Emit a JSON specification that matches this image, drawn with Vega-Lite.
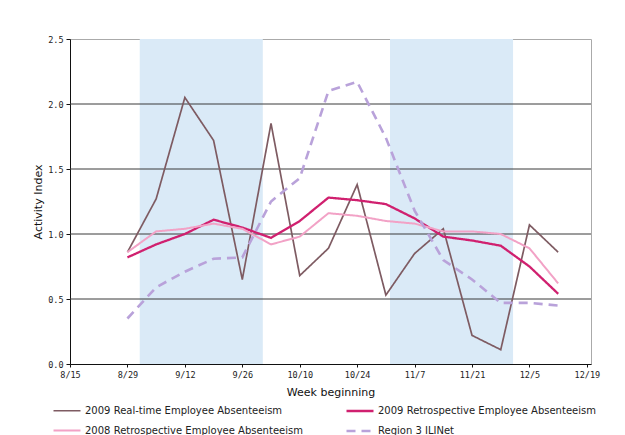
{
  "$schema": "https://vega.github.io/schema/vega-lite/v6.json",
  "width": 521,
  "height": 325,
  "autosize": {"type": "none"},
  "padding": {"left": 70, "top": 39, "right": 34, "bottom": 71},
  "background": "white",
  "config": {
    "view": {"stroke": "#aaaaaa", "strokeWidth": 1},
    "font": "DejaVu Sans",
    "legend": {
      "orient": "none",
      "legendX": -18,
      "legendY": 357,
      "columns": 2,
      "columnPadding": 38,
      "rowPadding": -16,
      "padding": 0,
      "labelFont": "DejaVu Sans",
      "labelFontSize": 10,
      "labelColor": "#222222",
      "labelLimit": 400,
      "symbolType": "stroke",
      "symbolSize": 729,
      "symbolStrokeWidth": 2,
      "symbolOffset": 0,
      "labelOffset": 3
    }
  },
  "datasets": {
    "shade": [
      {"start": "2009-09-01T00:00:00", "end": "2009-10-01T00:00:00"},
      {"start": "2009-11-01T00:00:00", "end": "2009-12-01T00:00:00"}
    ],
    "grid": [{"v": 0.5}, {"v": 1.0}, {"v": 1.5}, {"v": 2.0}],
    "series": [
      {"date": "2009-08-29T00:00:00", "series": "2009 Real-time Employee Absenteeism", "value": 0.86},
      {"date": "2009-09-05T00:00:00", "series": "2009 Real-time Employee Absenteeism", "value": 1.27},
      {"date": "2009-09-12T00:00:00", "series": "2009 Real-time Employee Absenteeism", "value": 2.05},
      {"date": "2009-09-19T00:00:00", "series": "2009 Real-time Employee Absenteeism", "value": 1.72},
      {"date": "2009-09-26T00:00:00", "series": "2009 Real-time Employee Absenteeism", "value": 0.65},
      {"date": "2009-10-03T00:00:00", "series": "2009 Real-time Employee Absenteeism", "value": 1.85},
      {"date": "2009-10-10T00:00:00", "series": "2009 Real-time Employee Absenteeism", "value": 0.68},
      {"date": "2009-10-17T00:00:00", "series": "2009 Real-time Employee Absenteeism", "value": 0.89},
      {"date": "2009-10-24T00:00:00", "series": "2009 Real-time Employee Absenteeism", "value": 1.38},
      {"date": "2009-10-31T00:00:00", "series": "2009 Real-time Employee Absenteeism", "value": 0.53},
      {"date": "2009-11-07T00:00:00", "series": "2009 Real-time Employee Absenteeism", "value": 0.85},
      {"date": "2009-11-14T00:00:00", "series": "2009 Real-time Employee Absenteeism", "value": 1.04},
      {"date": "2009-11-21T00:00:00", "series": "2009 Real-time Employee Absenteeism", "value": 0.22},
      {"date": "2009-11-28T00:00:00", "series": "2009 Real-time Employee Absenteeism", "value": 0.11},
      {"date": "2009-12-05T00:00:00", "series": "2009 Real-time Employee Absenteeism", "value": 1.07},
      {"date": "2009-12-12T00:00:00", "series": "2009 Real-time Employee Absenteeism", "value": 0.86},
      {"date": "2009-08-29T00:00:00", "series": "2009 Retrospective Employee Absenteeism", "value": 0.82},
      {"date": "2009-09-05T00:00:00", "series": "2009 Retrospective Employee Absenteeism", "value": 0.92},
      {"date": "2009-09-12T00:00:00", "series": "2009 Retrospective Employee Absenteeism", "value": 1.00},
      {"date": "2009-09-19T00:00:00", "series": "2009 Retrospective Employee Absenteeism", "value": 1.11},
      {"date": "2009-09-26T00:00:00", "series": "2009 Retrospective Employee Absenteeism", "value": 1.05},
      {"date": "2009-10-03T00:00:00", "series": "2009 Retrospective Employee Absenteeism", "value": 0.97},
      {"date": "2009-10-10T00:00:00", "series": "2009 Retrospective Employee Absenteeism", "value": 1.10},
      {"date": "2009-10-17T00:00:00", "series": "2009 Retrospective Employee Absenteeism", "value": 1.28},
      {"date": "2009-10-24T00:00:00", "series": "2009 Retrospective Employee Absenteeism", "value": 1.26},
      {"date": "2009-10-31T00:00:00", "series": "2009 Retrospective Employee Absenteeism", "value": 1.23},
      {"date": "2009-11-07T00:00:00", "series": "2009 Retrospective Employee Absenteeism", "value": 1.12},
      {"date": "2009-11-14T00:00:00", "series": "2009 Retrospective Employee Absenteeism", "value": 0.98},
      {"date": "2009-11-21T00:00:00", "series": "2009 Retrospective Employee Absenteeism", "value": 0.95},
      {"date": "2009-11-28T00:00:00", "series": "2009 Retrospective Employee Absenteeism", "value": 0.91},
      {"date": "2009-12-05T00:00:00", "series": "2009 Retrospective Employee Absenteeism", "value": 0.75},
      {"date": "2009-12-12T00:00:00", "series": "2009 Retrospective Employee Absenteeism", "value": 0.54},
      {"date": "2009-08-29T00:00:00", "series": "2008 Retrospective Employee Absenteeism", "value": 0.86},
      {"date": "2009-09-05T00:00:00", "series": "2008 Retrospective Employee Absenteeism", "value": 1.02},
      {"date": "2009-09-12T00:00:00", "series": "2008 Retrospective Employee Absenteeism", "value": 1.04},
      {"date": "2009-09-19T00:00:00", "series": "2008 Retrospective Employee Absenteeism", "value": 1.08},
      {"date": "2009-09-26T00:00:00", "series": "2008 Retrospective Employee Absenteeism", "value": 1.04},
      {"date": "2009-10-03T00:00:00", "series": "2008 Retrospective Employee Absenteeism", "value": 0.92},
      {"date": "2009-10-10T00:00:00", "series": "2008 Retrospective Employee Absenteeism", "value": 0.98},
      {"date": "2009-10-17T00:00:00", "series": "2008 Retrospective Employee Absenteeism", "value": 1.16},
      {"date": "2009-10-24T00:00:00", "series": "2008 Retrospective Employee Absenteeism", "value": 1.14},
      {"date": "2009-10-31T00:00:00", "series": "2008 Retrospective Employee Absenteeism", "value": 1.10},
      {"date": "2009-11-07T00:00:00", "series": "2008 Retrospective Employee Absenteeism", "value": 1.08},
      {"date": "2009-11-14T00:00:00", "series": "2008 Retrospective Employee Absenteeism", "value": 1.02},
      {"date": "2009-11-21T00:00:00", "series": "2008 Retrospective Employee Absenteeism", "value": 1.02},
      {"date": "2009-11-28T00:00:00", "series": "2008 Retrospective Employee Absenteeism", "value": 1.00},
      {"date": "2009-12-05T00:00:00", "series": "2008 Retrospective Employee Absenteeism", "value": 0.89},
      {"date": "2009-12-12T00:00:00", "series": "2008 Retrospective Employee Absenteeism", "value": 0.62},
      {"date": "2009-08-29T00:00:00", "series": "Region 3 ILINet", "value": 0.35},
      {"date": "2009-09-05T00:00:00", "series": "Region 3 ILINet", "value": 0.59},
      {"date": "2009-09-12T00:00:00", "series": "Region 3 ILINet", "value": 0.71},
      {"date": "2009-09-19T00:00:00", "series": "Region 3 ILINet", "value": 0.81},
      {"date": "2009-09-26T00:00:00", "series": "Region 3 ILINet", "value": 0.82},
      {"date": "2009-10-03T00:00:00", "series": "Region 3 ILINet", "value": 1.25},
      {"date": "2009-10-10T00:00:00", "series": "Region 3 ILINet", "value": 1.43},
      {"date": "2009-10-17T00:00:00", "series": "Region 3 ILINet", "value": 2.10},
      {"date": "2009-10-24T00:00:00", "series": "Region 3 ILINet", "value": 2.17},
      {"date": "2009-10-31T00:00:00", "series": "Region 3 ILINet", "value": 1.74},
      {"date": "2009-11-07T00:00:00", "series": "Region 3 ILINet", "value": 1.18},
      {"date": "2009-11-14T00:00:00", "series": "Region 3 ILINet", "value": 0.80},
      {"date": "2009-11-21T00:00:00", "series": "Region 3 ILINet", "value": 0.65},
      {"date": "2009-11-28T00:00:00", "series": "Region 3 ILINet", "value": 0.47},
      {"date": "2009-12-05T00:00:00", "series": "Region 3 ILINet", "value": 0.47},
      {"date": "2009-12-12T00:00:00", "series": "Region 3 ILINet", "value": 0.45}
    ]
  },
  "layer": [
    {
      "data": {"name": "shade"},
      "mark": {"type": "rect", "color": "#DAEAF7"},
      "encoding": {
        "x": {"field": "start", "type": "temporal"},
        "x2": {"field": "end"}
      }
    },
    {
      "data": {"name": "grid"},
      "mark": {"type": "rule", "color": "#3a3a3a", "strokeWidth": 1},
      "encoding": {
        "y": {"field": "v", "type": "quantitative"}
      }
    },
    {
      "data": {"name": "series"},
      "mark": {"type": "line", "strokeJoin": "miter"},
      "encoding": {
        "x": {
          "field": "date",
          "type": "temporal",
          "scale": {"domain": [{"year": 2009, "month": 8, "date": 15}, {"year": 2009, "month": 12, "date": 20}]},
          "axis": {
            "title": "Week beginning",
            "titleFont": "DejaVu Sans",
            "titleFontSize": 11,
            "titleFontWeight": "normal",
            "titleColor": "#111111",
            "titlePadding": 8,
            "values": [
              {"year": 2009, "month": 8, "date": 15},
              {"year": 2009, "month": 8, "date": 29},
              {"year": 2009, "month": 9, "date": 12},
              {"year": 2009, "month": 9, "date": 26},
              {"year": 2009, "month": 10, "date": 10},
              {"year": 2009, "month": 10, "date": 24},
              {"year": 2009, "month": 11, "date": 7},
              {"year": 2009, "month": 11, "date": 21},
              {"year": 2009, "month": 12, "date": 5},
              {"year": 2009, "month": 12, "date": 19}
            ],
            "format": "%-m/%-d",
            "labelFont": "DejaVu Sans Mono",
            "labelFontSize": 8.5,
            "labelColor": "#222222",
            "labelPadding": 3,
            "tickSize": 3,
            "tickColor": "#111111",
            "domainColor": "#111111",
            "grid": false,
            "labelFlush": false,
            "labelOverlap": false
          }
        },
        "y": {
          "field": "value",
          "type": "quantitative",
          "scale": {"domain": [0, 2.5], "nice": false, "zero": true},
          "axis": {
            "title": "Activity Index",
            "titleFont": "DejaVu Sans",
            "titleFontSize": 11,
            "titleFontWeight": "normal",
            "titleColor": "#111111",
            "titlePadding": 4,
            "values": [0, 0.5, 1, 1.5, 2, 2.5],
            "format": ".1f",
            "labelFont": "DejaVu Sans Mono",
            "labelFontSize": 8.5,
            "labelColor": "#222222",
            "labelPadding": 3,
            "tickSize": 4,
            "tickColor": "#111111",
            "domainColor": "#111111",
            "grid": false
          }
        },
        "color": {
          "field": "series",
          "type": "nominal",
          "scale": {
            "domain": ["2009 Real-time Employee Absenteeism", "2008 Retrospective Employee Absenteeism", "2009 Retrospective Employee Absenteeism", "Region 3 ILINet"],
            "range": ["#7E5B62", "#F2A2C6", "#D0206F", "#B9A2DA"]
          },
          "legend": {"title": null}
        },
        "strokeDash": {
          "field": "series",
          "type": "nominal",
          "scale": {
            "domain": ["2009 Real-time Employee Absenteeism", "2008 Retrospective Employee Absenteeism", "2009 Retrospective Employee Absenteeism", "Region 3 ILINet"],
            "range": [[1, 0], [1, 0], [1, 0], [9, 6]]
          },
          "legend": {"title": null}
        },
        "strokeWidth": {
          "field": "series",
          "type": "nominal",
          "scale": {
            "domain": ["2009 Real-time Employee Absenteeism", "2008 Retrospective Employee Absenteeism", "2009 Retrospective Employee Absenteeism", "Region 3 ILINet"],
            "range": [1.7, 2.6, 2.2, 2.5]
          },
          "legend": null
        }
      }
    }
  ]
}
